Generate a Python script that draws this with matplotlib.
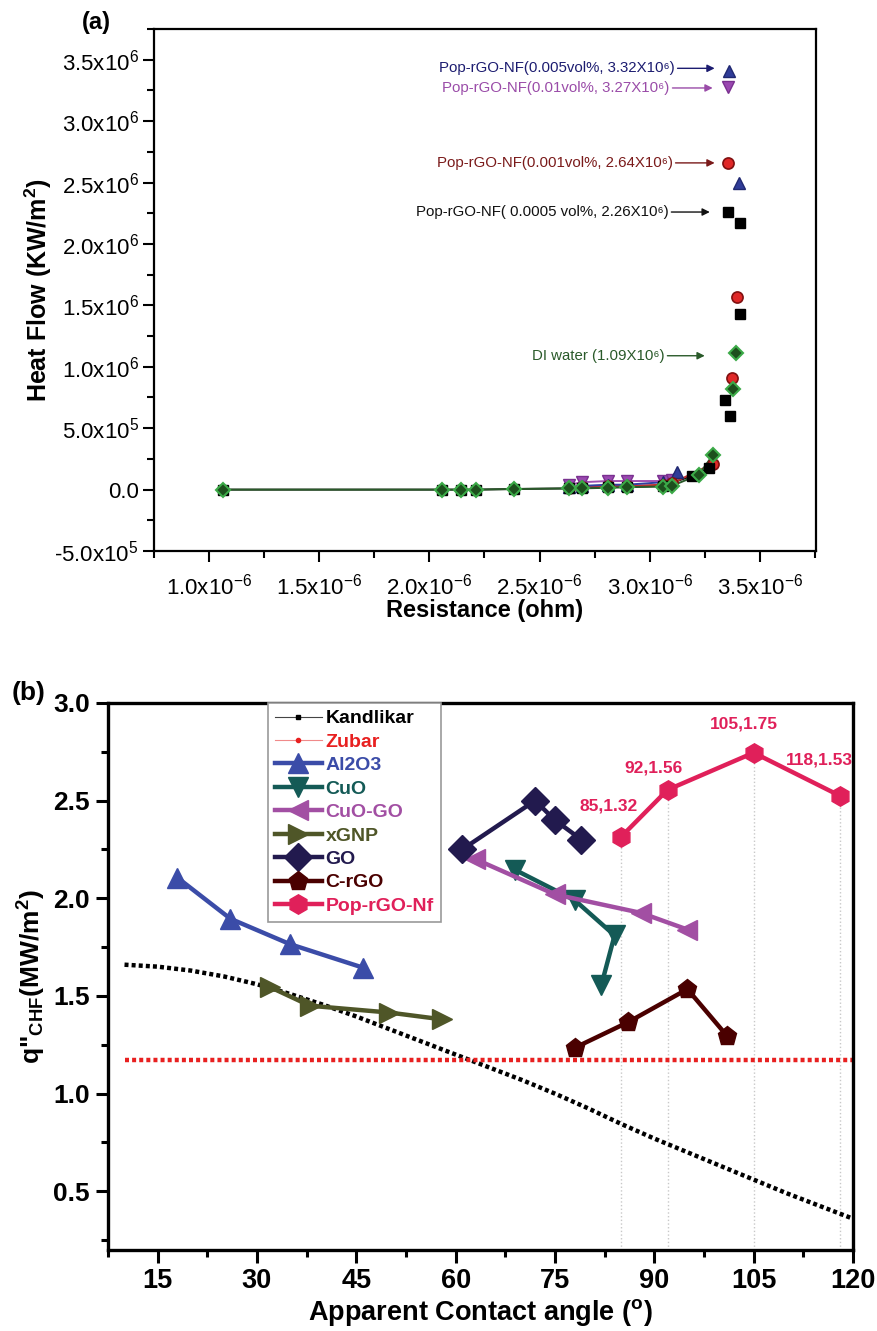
import numpy as np
import matplotlib
matplotlib.use('Agg')
import matplotlib.pyplot as plt
from matplotlib import font_manager
from matplotlib.lines import Line2D

plt.rcParams['font.family'] = ['Liberation Sans', 'DejaVu Sans']
plt.rcParams['mathtext.fontset'] = 'custom'
plt.rcParams['mathtext.rm'] = 'Liberation Sans'
plt.rcParams['mathtext.it'] = 'Liberation Sans:italic'
plt.rcParams['mathtext.bf'] = 'Liberation Sans:bold'

# narrow bold font for the bottom axis of (b), if we have it
font_names = {f.name for f in font_manager.fontManager.ttflist}
NARROW = 'Liberation Sans Narrow' if 'Liberation Sans Narrow' in font_names else 'Liberation Sans'
NARROW_SIZE = 22 if NARROW == 'Liberation Sans Narrow' else 19.5

# ---------------- panel (a) data ----------------
di_x = [1.064, 2.059, 2.145, 2.214, 2.386, 2.636, 2.691, 2.809, 2.895, 3.059, 3.100, 3.223, 3.286, 3.377, 3.391]
di_y = [0.0, 0.0, 0.0, 0.0, 0.005, 0.01, 0.01, 0.015, 0.02, 0.025, 0.03, 0.12, 0.28, 0.82, 1.11]

v0005_x = [1.064, 2.059, 2.145, 2.214, 2.386, 2.636, 2.691, 2.809, 2.895, 3.059, 3.191, 3.270, 3.341, 3.364, 3.409, 3.355, 3.409]
v0005_y = [0.0, 0.0, 0.0, 0.0, 0.005, 0.01, 0.01, 0.02, 0.02, 0.03, 0.11, 0.18, 0.73, 0.60, 1.43, 2.26, 2.17]

v001_x = [2.636, 2.691, 2.809, 2.895, 3.059, 3.100, 3.286, 3.373, 3.395, 3.355]
v001_y = [0.01, 0.02, 0.03, 0.03, 0.04, 0.05, 0.21, 0.91, 1.57, 2.66]

v005_x = [2.636, 2.691, 2.809, 2.895, 3.059, 3.123, 3.405, 3.359]
v005_y = [0.02, 0.03, 0.04, 0.04, 0.06, 0.14, 2.50, 3.41]

v01_x = [2.636, 2.691, 2.809, 2.895, 3.059, 3.100, 3.355]
v01_y = [0.04, 0.06, 0.07, 0.07, 0.07, 0.08, 3.28]

a_xticks = [1.0, 1.5, 2.0, 2.5, 3.0, 3.5]
a_xticklabels = ['1.0x10$^{\\mathregular{-6}}$', '1.5x10$^{\\mathregular{-6}}$', '2.0x10$^{\\mathregular{-6}}$',
                 '2.5x10$^{\\mathregular{-6}}$', '3.0x10$^{\\mathregular{-6}}$', '3.5x10$^{\\mathregular{-6}}$']
a_yticks = [-0.5, 0.0, 0.5, 1.0, 1.5, 2.0, 2.5, 3.0, 3.5]
a_yticklabels = ['-5.0x10$^{\\mathregular{5}}$', '0.0', '5.0x10$^{\\mathregular{5}}$',
                 '1.0x10$^{\\mathregular{6}}$', '1.5x10$^{\\mathregular{6}}$', '2.0x10$^{\\mathregular{6}}$',
                 '2.5x10$^{\\mathregular{6}}$', '3.0x10$^{\\mathregular{6}}$', '3.5x10$^{\\mathregular{6}}$']

a_notes = ['Pop-rGO-NF(0.005vol%, 3.32X10\u2076)',
           'Pop-rGO-NF(0.01vol%, 3.27X10\u2076)',
           'Pop-rGO-NF(0.001vol%, 2.64X10\u2076)',
           'Pop-rGO-NF( 0.0005 vol%, 2.26X10\u2076)',
           'DI water (1.09X10\u2076)']

# ---------------- panel (b) data ----------------
kand_x = [10, 15, 20, 25, 30, 35, 40, 45, 50, 55, 60, 65, 70, 75, 80, 85, 90, 95, 100, 105, 110, 115, 120]
kand_y = [1.66, 1.65, 1.63, 1.60, 1.56, 1.51, 1.455, 1.395, 1.33, 1.265, 1.20, 1.135, 1.07, 1.00, 0.925,
          0.845, 0.77, 0.70, 0.63, 0.56, 0.49, 0.425, 0.36]
zubar_x = [10, 120]
zubar_y = [1.173, 1.173]

al2o3_x = [18, 26, 35, 46]
al2o3_y = [2.105, 1.895, 1.765, 1.645]
cuo_x = [69, 78, 84, 82]
cuo_y = [2.145, 1.99, 1.81, 1.555]
cuogo_x = [63, 75, 88, 95]
cuogo_y = [2.20, 2.02, 1.925, 1.84]
xgnp_x = [32, 38, 50, 58]
xgnp_y = [1.545, 1.45, 1.415, 1.38]
go_x = [61, 72, 75, 79]
go_y = [2.25, 2.50, 2.40, 2.30]
crgo_x = [78, 86, 95, 101]
crgo_y = [1.235, 1.365, 1.535, 1.295]
pop_x = [85, 92, 105, 118]
pop_y = [2.315, 2.555, 2.745, 2.525]
pop_labels = ['85,1.32', '92,1.56', '105,1.75', '118,1.53']

b_series = [
    ('Al2O3', al2o3_x, al2o3_y, '#3b4ca8', '^'),
    ('CuO', cuo_x, cuo_y, '#145a56', 'v'),
    ('CuO-GO', cuogo_x, cuogo_y, '#a24fa3', '<'),
    ('xGNP', xgnp_x, xgnp_y, '#4f5628', '>'),
    ('GO', go_x, go_y, '#221a4e', 'D'),
    ('C-rGO', crgo_x, crgo_y, '#4a0000', 'p'),
    ('Pop-rGO-Nf', pop_x, pop_y, '#e0205a', 'h'),
]

fig = plt.figure(figsize=(8.77, 13.31), dpi=100)

# ================= (a) =================
ax1 = fig.add_axes([0.1756, 0.586, 0.7548, 0.3922])
e6 = 1e-6
m6 = 1e6


def sx(v):
    return np.array(v) * e6


def sy(v):
    return np.array(v) * m6


# thin connecting lines along the low part
def low_part(x, y):
    x = np.array(x)
    y = np.array(y)
    keep = x <= 3.3
    return sx(x[keep]), sy(y[keep])


for xs, ys, c in [(v0005_x, v0005_y, '#111111'), (v001_x, v001_y, '#c03030'),
                  (v005_x, v005_y, '#3040a0'), (v01_x, v01_y, '#a050b0'), (di_x, di_y, '#2a5a2a')]:
    lx, ly = low_part(xs, ys)
    ax1.plot(lx, ly, '-', color=c, lw=1.4, zorder=2)

ax1.plot(sx(v01_x), sy(v01_y), 'v', ms=8, mfc='#9a48b0', mec='#7a3090', mew=1, ls='none', zorder=3)
ax1.plot(sx(v005_x), sy(v005_y), '^', ms=8, mfc='#303c98', mec='#202870', mew=1, ls='none', zorder=3)
ax1.plot(sx(v001_x), sy(v001_y), 'o', ms=8, mfc='#e02828', mec='#801010', mew=1.2, ls='none', zorder=4)
ax1.plot(sx(v0005_x), sy(v0005_y), 's', ms=7.5, mfc='black', mec='black', ls='none', zorder=4)
ax1.plot(sx(di_x), sy(di_y), 'D', ms=7, mfc='#1d4f1d', mec='#3caa48', mew=1.5, ls='none', zorder=5)

note_colors = ['#1c1c70', '#9a4ca8', '#7a1a1a', '#111111', '#2a5a2a']
note_xy = [(3.114, 3.43), (3.091, 3.27), (3.105, 2.66), (3.086, 2.26), (3.068, 1.09)]
note_tip = [3.295, 3.286, 3.295, 3.273, 3.25]
for txt, c, (tx, ty), tip in zip(a_notes, note_colors, note_xy, note_tip):
    ax1.annotate(txt, xy=(tip * e6, ty * m6), xytext=(tx * e6, ty * m6), ha='right', va='center',
                 fontsize=10.8, color=c,
                 arrowprops=dict(arrowstyle='-|>', color=c, lw=1.0, mutation_scale=11,
                                 shrinkA=0, shrinkB=0))

ax1.set_xlim(0.75e-6, 3.755e-6)
ax1.set_ylim(-0.5e6, 3.75e6)
ax1.set_xticks(sx(a_xticks))
ax1.set_xticklabels(a_xticklabels)
ax1.set_xticks(sx(np.arange(0.75, 3.76, 0.25)), minor=True)
ax1.set_yticks(sy(a_yticks))
ax1.set_yticklabels(a_yticklabels)
ax1.set_yticks(sy(np.arange(-0.5, 3.76, 0.25)), minor=True)
ax1.tick_params(which='major', direction='out', length=8, width=1.5, labelsize=16, pad=3)
ax1.tick_params(which='minor', direction='out', length=5, width=1.5)
ax1.tick_params(axis='x', which='major', pad=8)
ax1.tick_params(top=False, right=False, which='both')
for s in ax1.spines.values():
    s.set_linewidth(1.6)
ax1.set_xlabel('Resistance (ohm)', fontsize=17, fontweight='bold', labelpad=0)
ax1.set_ylabel('Heat Flow (KW/m$^{\\mathregular{2}}$)', fontsize=18, fontweight='bold', labelpad=0)
fig.text(96 / 877, 1 - 22 / 1331, '(a)', fontsize=17, fontweight='bold', ha='center', va='center')

# ================= (b) =================
ax2 = fig.add_axes([0.1231, 0.0609, 0.8495, 0.4110])

# dotted guide lines below the Pop-rGO-Nf points
ax2.vlines(pop_x, 0.2, np.array(pop_y) - 0.04, colors='#c8c8c8', lw=1.0, linestyles=':', zorder=1)

ax2.plot(kand_x, kand_y, color='black', lw=3.2, ls=(0, (0.9, 0.7)), zorder=2)
ax2.plot(zubar_x, zubar_y, color='#e82020', lw=3.2, ls=(0, (0.9, 0.7)), zorder=2)

for name, xs, ys, c, mk in b_series:
    ax2.plot(xs, ys, '-', color=c, lw=3.2, marker=mk, ms=14, mfc=c, mec=c, zorder=3)

pop_label_xy = [(83.1, 2.47), (89.9, 2.665), (103.6, 2.89), (115.0, 2.71)]
for (lx, ly), lab in zip(pop_label_xy, pop_labels):
    ax2.text(lx, ly, lab, color='#e0205a', fontsize=12.5, fontweight='bold',
             ha='center', va='center', zorder=4)

handles = [Line2D([], [], color='#444444', lw=0.8, marker='s', ms=3, mfc='black', mec='black'),
           Line2D([], [], color='#f08a8a', lw=0.8, marker='o', ms=3, mfc='#e82020', mec='#e82020')]
names = ['Kandlikar', 'Zubar']
colors = ['black', '#e82020']
for name, xs, ys, c, mk in b_series:
    handles.append(Line2D([], [], color=c, lw=3.2, marker=mk, ms=14, mfc=c, mec=c))
    names.append(name)
    colors.append(c)
leg = ax2.legend(handles, names, loc='upper left', bbox_to_anchor=(0.215, 1.0), borderaxespad=0,
                 fancybox=False, edgecolor='#999999', framealpha=1, handlelength=2.4,
                 handletextpad=0.2, labelspacing=0.3, borderpad=0.35,
                 prop={'size': 14, 'weight': 'bold'})
leg.get_frame().set_linewidth(1.2)
for t, c in zip(leg.get_texts(), colors):
    t.set_color(c)

ax2.set_xlim(10, 120)
ax2.set_ylim(0.2, 3.0)
ax2.set_xticks(np.arange(15, 121, 15))
ax2.set_xticks(np.arange(7.5, 121, 7.5), minor=True)
ax2.set_yticks(np.arange(0.5, 3.01, 0.5))
ax2.set_yticks(np.arange(0.25, 3.01, 0.25), minor=True)
ax2.tick_params(which='major', direction='out', length=9, width=2.2, pad=4)
ax2.tick_params(which='minor', direction='out', length=5, width=2.2)
ax2.tick_params(top=False, right=False, which='both')
for lbl in ax2.get_yticklabels():
    lbl.set_fontsize(19)
    lbl.set_fontweight('bold')
for lbl in ax2.get_xticklabels():
    lbl.set_fontsize(NARROW_SIZE)
    lbl.set_fontweight('bold')
    lbl.set_family([NARROW, 'DejaVu Sans'])
for s in ax2.spines.values():
    s.set_linewidth(2.4)
ax2.set_xlabel('Apparent Contact angle ($^{\\mathregular{o}}$)', fontsize=NARROW_SIZE, fontweight='bold',
               family=[NARROW, 'DejaVu Sans'], labelpad=2)
ax2.set_ylabel('q"$_{\\mathregular{CHF}}$(MW/m$^{\\mathregular{2}}$)', fontsize=19, fontweight='bold', labelpad=4)
fig.text(29 / 877, 1 - 693 / 1331, '(b)', fontsize=19, fontweight='bold', ha='center', va='center')

fig.savefig('out.png', dpi=100)
